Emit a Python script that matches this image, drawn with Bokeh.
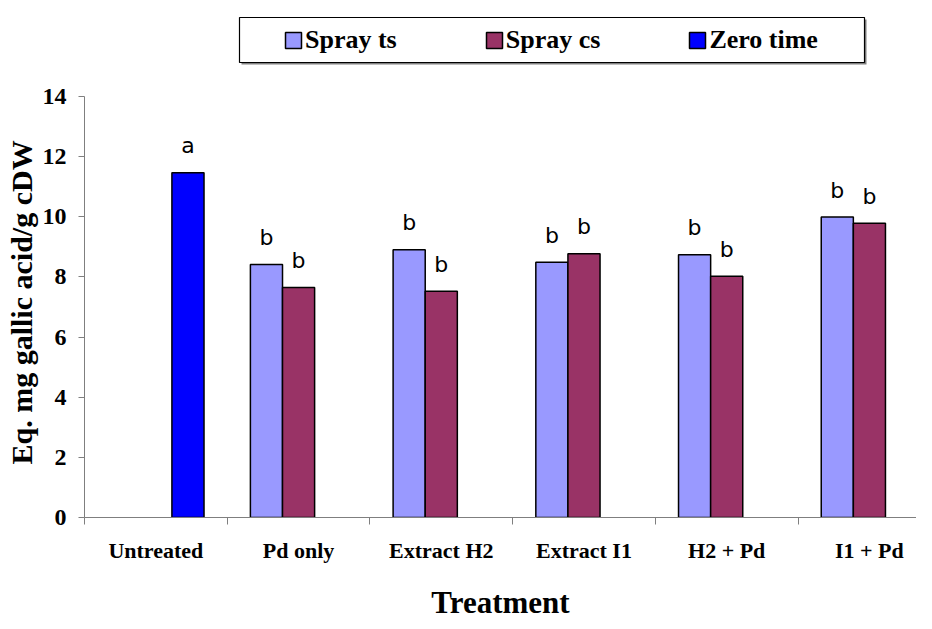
from bokeh.plotting import figure
from bokeh.models import ColumnDataSource, FixedTicker, Legend, LegendItem, Range1d, BoxAnnotation, Title
from bokeh.core.properties import value
from bokeh.embed import file_html
from bokeh.resources import INLINE

# ---- data ----
treatments = ["Untreated", "Pd only", "Extract H2", "Extract I1", "H2 + Pd", "I1 + Pd"]
series_names = ["Spray ts", "Spray cs", "Zero time"]
spray_ts_treatments = ["Pd only", "Extract H2", "Extract I1", "H2 + Pd", "I1 + Pd"]
spray_ts = [8.41, 8.90, 8.49, 8.74, 9.99]
spray_ts_letters = ["b", "b", "b", "b", "b"]
spray_cs_treatments = ["Pd only", "Extract H2", "Extract I1", "H2 + Pd", "I1 + Pd"]
spray_cs = [7.65, 7.52, 8.77, 8.02, 9.78]
spray_cs_letters = ["b", "b", "b", "b", "b"]
zero_time_treatments = ["Untreated"]
zero_time = [11.46]
zero_time_letters = ["a"]
y_ticks = [0, 2, 4, 6, 8, 10, 12, 14]
y_axis_max = 14
y_title = "Eq. mg gallic acid/g cDW"
x_title = "Treatment"

colors = {"Spray ts": "#9999FF", "Spray cs": "#993366", "Zero time": "#0000FF"}
offsets = {"Spray ts": -0.225, "Spray cs": 0.0, "Zero time": 0.225}
bar_w = 0.225

serif = "Liberation Serif"

# frame spans whole canvas height above the x axis so the legend (drawn inside the frame) is visible;
# the y axis itself is bounded to 0..14
p = figure(width=916, height=622, output_backend="svg", toolbar_location=None,
           x_range=Range1d(0, 5.83), y_range=Range1d(0, 17.19),
           min_border_left=84, min_border_right=0, min_border_top=0, min_border_bottom=105)
p.outline_line_color = None
p.grid.grid_line_color = None
p.background_fill_color = "white"

renderers = {}
for name, cats, vals, letters in [
    ("Spray ts", spray_ts_treatments, spray_ts, spray_ts_letters),
    ("Spray cs", spray_cs_treatments, spray_cs, spray_cs_letters),
    ("Zero time", zero_time_treatments, zero_time, zero_time_letters),
]:
    xs = [treatments.index(c) + 0.5 + offsets[name] for c in cats]
    src = ColumnDataSource(dict(x=xs, top=vals, letter=letters))
    r = p.vbar(x="x", top="top", width=bar_w, bottom=0, source=src,
               fill_color=colors[name], line_color="black", line_width=1.5)
    renderers[name] = r
    p.text(x="x", y="top", text="letter", source=src, text_align="center",
           text_baseline="alphabetic", y_offset=-27, text_font=value("DejaVu Sans"),
           text_font_size="22px", text_color="black")

# y axis
ya = p.yaxis[0]
ya.bounds = (0, y_axis_max)
ya.ticker = FixedTicker(ticks=y_ticks, minor_ticks=[])
ya.major_label_text_font = serif
ya.major_label_text_font_style = "bold"
ya.major_label_text_font_size = "24px"
ya.major_label_text_color = "black"
ya.major_label_standoff = 12
ya.major_tick_out = 6
ya.major_tick_in = 0
ya.axis_line_color = "#7f7f7f"
ya.major_tick_line_color = "#7f7f7f"

# y axis title, centred on the 0..14 part of the axis
p.add_layout(Title(text=y_title, align="left", offset=53, standoff=4,
                   text_font=serif, text_font_style="bold", text_font_size="30px",
                   text_color="black"), "left")

# x axis
xa = p.xaxis[0]
centers = [i + 0.5 for i in range(len(treatments))]
xa.ticker = FixedTicker(ticks=centers, minor_ticks=list(range(len(treatments))))
xa.major_label_overrides = {c: t for c, t in zip(centers, treatments)}
xa.major_tick_line_color = None
xa.major_tick_out = 0
xa.major_tick_in = 0
xa.minor_tick_out = 7
xa.minor_tick_in = 0
xa.minor_tick_line_color = "#7f7f7f"
xa.axis_line_color = "#7f7f7f"
xa.major_label_text_font = serif
xa.major_label_text_font_style = "bold"
xa.major_label_text_font_size = "22px"
xa.major_label_text_color = "black"
xa.major_label_standoff = 13
xa.axis_label = x_title
xa.axis_label_text_font = serif
xa.axis_label_text_font_style = "bold"
xa.axis_label_text_font_size = "31px"
xa.axis_label_text_color = "black"
xa.axis_label_standoff = 19

# legend frame (with shadow)
def cbox(l, r, t, b, **kw):
    return BoxAnnotation(left=l, right=r, top=t, bottom=b,
                         left_units="canvas", right_units="canvas",
                         top_units="canvas", bottom_units="canvas", **kw)

p.add_layout(cbox(241, 866, 19, 64, fill_color="#808080", fill_alpha=1, line_color=None))
p.add_layout(cbox(239, 864, 17, 62, fill_color="white", fill_alpha=1,
                  line_color="black", line_width=1.2, line_alpha=1))

legend = Legend(items=[LegendItem(label=n, renderers=[renderers[n]]) for n in series_names],
                orientation="horizontal", location=(199, 462),
                padding=0, margin=0, spacing=87, label_standoff=2,
                glyph_width=20, glyph_height=20,
                border_line_color=None, background_fill_alpha=0,
                label_text_font=serif, label_text_font_style="bold", label_text_font_size="26px",
                label_text_color="black")
p.add_layout(legend, "center")

open("out.html", "w").write(file_html(p, INLINE))
